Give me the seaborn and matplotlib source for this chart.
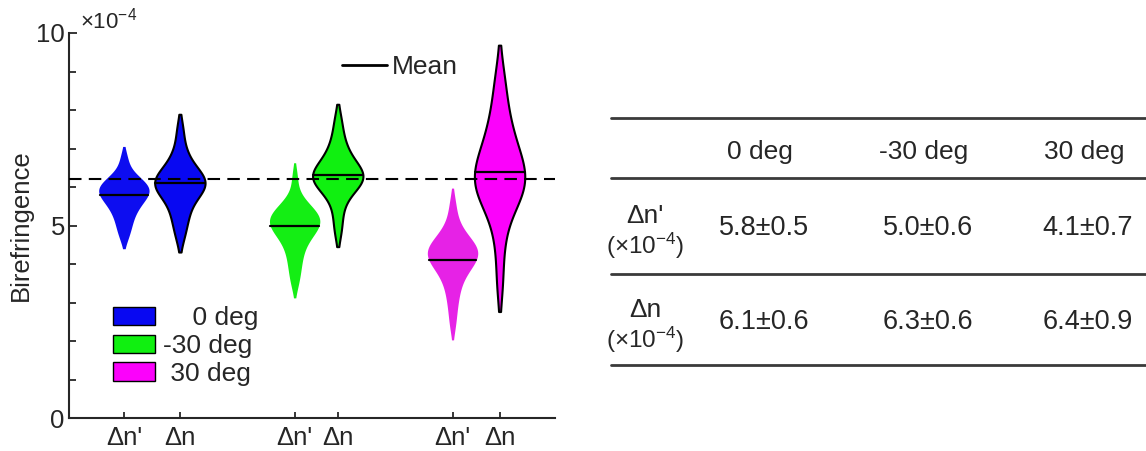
import numpy as np
import pandas as pd
import seaborn as sns
import matplotlib.pyplot as plt
from matplotlib.lines import Line2D
from matplotlib.patches import Patch

sns.set_style("ticks")
plt.rcParams['font.family'] = ['Liberation Sans', 'DejaVu Sans']
plt.rcParams['mathtext.fontset'] = 'custom'
plt.rcParams['mathtext.rm'] = 'Liberation Sans'
plt.rcParams['mathtext.it'] = 'Liberation Sans:italic'

# conditions and quantities
angles = ["0 deg", "-30 deg", "30 deg"]
kinds = ["Δn'", "Δn"]
colors_prime = ["#0d0df0", "#14ee14", "#e622e6"]
colors_n = ["#0808f2", "#10f010", "#fb02fb"]

# birefringence samples (x1e-4)
dnp_0 = [4.7, 4.95, 5.1, 5.3, 5.4, 5.5, 5.6, 5.7, 5.75, 5.8, 5.85, 5.9, 5.95,
         6.0, 6.05, 6.1, 6.15, 6.25, 6.4, 6.75]
dn_0 = [4.7, 5.0, 5.2, 5.4, 5.55, 5.7, 5.8, 5.9, 5.95, 6.0, 6.05, 6.1, 6.15,
        6.2, 6.25, 6.3, 6.4, 6.5, 6.6, 6.8, 7.05, 7.5]
dnp_m30 = [3.5, 3.8, 4.05, 4.25, 4.45, 4.6, 4.7, 4.8, 4.9, 4.95, 5.0, 5.05,
           5.1, 5.15, 5.2, 5.25, 5.3, 5.35, 5.45, 5.55, 5.7, 6.25]
dn_m30 = [4.85, 5.25, 5.6, 5.8, 5.95, 6.05, 6.1, 6.15, 6.2, 6.25, 6.3, 6.35,
          6.4, 6.45, 6.55, 6.65, 6.75, 6.9, 7.1, 7.35, 7.75]
dnp_30 = [2.45, 2.9, 3.2, 3.45, 3.65, 3.8, 3.9, 4.0, 4.1, 4.15, 4.2, 4.25,
          4.3, 4.35, 4.4, 4.45, 4.5, 4.6, 4.7, 4.85, 5.1, 5.55]
dn_30 = [3.5, 4.4, 5.0, 5.4, 5.6, 5.75, 5.85, 5.95, 6.05, 6.15, 6.25, 6.35,
         6.45, 6.55, 6.7, 6.85, 7.0, 7.2, 7.4, 7.65, 8.0, 8.4, 8.95]

# summary (mean ± sd, x1e-4)
mean_prime = [5.8, 5.0, 4.1]
sd_prime = [0.5, 0.6, 0.7]
mean_n = [6.1, 6.3, 6.4]
sd_n = [0.6, 0.6, 0.9]
ref_level = 6.2

samples = [dnp_0, dn_0, dnp_m30, dn_m30, dnp_30, dn_30]
means = [mean_prime[0], mean_n[0], mean_prime[1], mean_n[1], mean_prime[2], mean_n[2]]
positions = [1.0, 2.0, 4.05, 4.82, 6.87, 7.71]

rows = []
for i, vals in enumerate(samples):
    for v in vals:
        rows.append({"value": v, "angle": angles[i // 2], "kind": kinds[i % 2],
                     "pos": positions[i]})
df = pd.DataFrame(rows)

fig = plt.figure(figsize=(11.46, 4.51), dpi=100)
ax = fig.add_axes([69 / 1146, 1 - 418 / 451, 486 / 1146, 385 / 451])

for i, vals in enumerate(samples):
    angle, kind, pos = angles[i // 2], kinds[i % 2], positions[i]
    grp = df[(df["angle"] == angle) & (df["kind"] == kind)]
    n_before = len(ax.collections)
    outlined = kind == "Δn"
    col = colors_n[i // 2] if outlined else colors_prime[i // 2]
    sns.violinplot(data=grp, x="pos", y="value", native_scale=True,
                   color=col, saturation=1, inner=None, cut=1.3,
                   width=0.9, bw_adjust=0.85, density_norm="width",
                   linewidth=1.5 if outlined else 0, linecolor="black", ax=ax)
    coll = ax.collections[n_before]
    coll.set_zorder(2)
    # mean line spanning the violin
    verts = coll.get_paths()[0].vertices
    right = verts[verts[:, 0] > pos + 1e-9]
    order = np.argsort(right[:, 1])
    half = np.interp(means[i], right[order, 1], right[order, 0]) - pos
    ax.plot([pos - half, pos + half], [means[i], means[i]], color="black",
            lw=1.6, zorder=4)

ax.axhline(ref_level, color="black", lw=1.5, ls=(0, (6, 3.5)), zorder=5)

ax.set_xlim(0.02, 8.7)
ax.set_ylim(0, 10)
ax.set_xticks(positions)
ax.set_xticklabels(kinds * 3, fontsize=18.5)
ax.set_yticks([0, 5, 10])
ax.set_yticks(range(0, 11), minor=True)
ax.tick_params(axis="y", which="major", direction="in", length=6, width=1.3,
               labelsize=18.5, pad=3)
ax.tick_params(axis="y", which="minor", direction="in", length=5, width=1.3)
ax.tick_params(axis="x", direction="in", length=4.5, width=1.3, pad=6)
ax.set_xlabel("")
ax.set_ylabel("Birefringence", fontsize=18.5, labelpad=2)
sns.despine(ax=ax)
for s in ["left", "bottom"]:
    ax.spines[s].set_linewidth(1.5)
ax.text(0.022, 1.0, "×10$^{-4}$", transform=ax.transAxes, fontsize=16,
        ha="left", va="bottom")

# legends
color_handles = [Patch(facecolor=c, edgecolor="black", lw=1) for c in colors_n]
leg1 = ax.legend(color_handles, ["    0 deg", "-30 deg", " 30 deg"],
                 loc="upper left", bbox_to_anchor=(0.09, 0.29), frameon=False,
                 fontsize=19, handlelength=1.6, handleheight=0.7,
                 handletextpad=0.3, labelspacing=0.14, borderpad=0,
                 borderaxespad=0)
ax.add_artist(leg1)
ax.legend([Line2D([], [], color="black", lw=2)], ["Mean"], loc="center left",
          bbox_to_anchor=(0.562, 0.912), frameon=False, fontsize=19,
          handlelength=1.7, handletextpad=0.2, borderpad=0, borderaxespad=0)

# summary table, drawn in pixel coordinates
tab = fig.add_axes([0, 0, 1, 1])
tab.set_xlim(0, 1146)
tab.set_ylim(451, 0)
tab.axis("off")
table_lines = [118, 178, 274, 365]
col_x = [760, 924, 1084]
row_y = [228, 322]
for y in table_lines:
    tab.plot([611, 1146], [y, y], color="#3a3a3a", lw=2)
for x, a in zip(col_x, angles):
    tab.text(x, 152, a, fontsize=19, ha="center", va="center")
row_means = [mean_prime, mean_n]
row_sds = [sd_prime, sd_n]
for r, kind in enumerate(kinds):
    tab.text(645, row_y[r] - 12, kind, fontsize=19, ha="center", va="center")
    tab.text(645, row_y[r] + 18, "(×10$^{-4}$)", fontsize=17.5, ha="center",
             va="center")
    for x, m, s in zip(col_x, row_means[r], row_sds[r]):
        tab.text(x + 4, row_y[r], f"{m:.1f}±{s:.1f}", fontsize=19.5,
                 ha="center", va="center")

fig.savefig("out.png", dpi=100)
